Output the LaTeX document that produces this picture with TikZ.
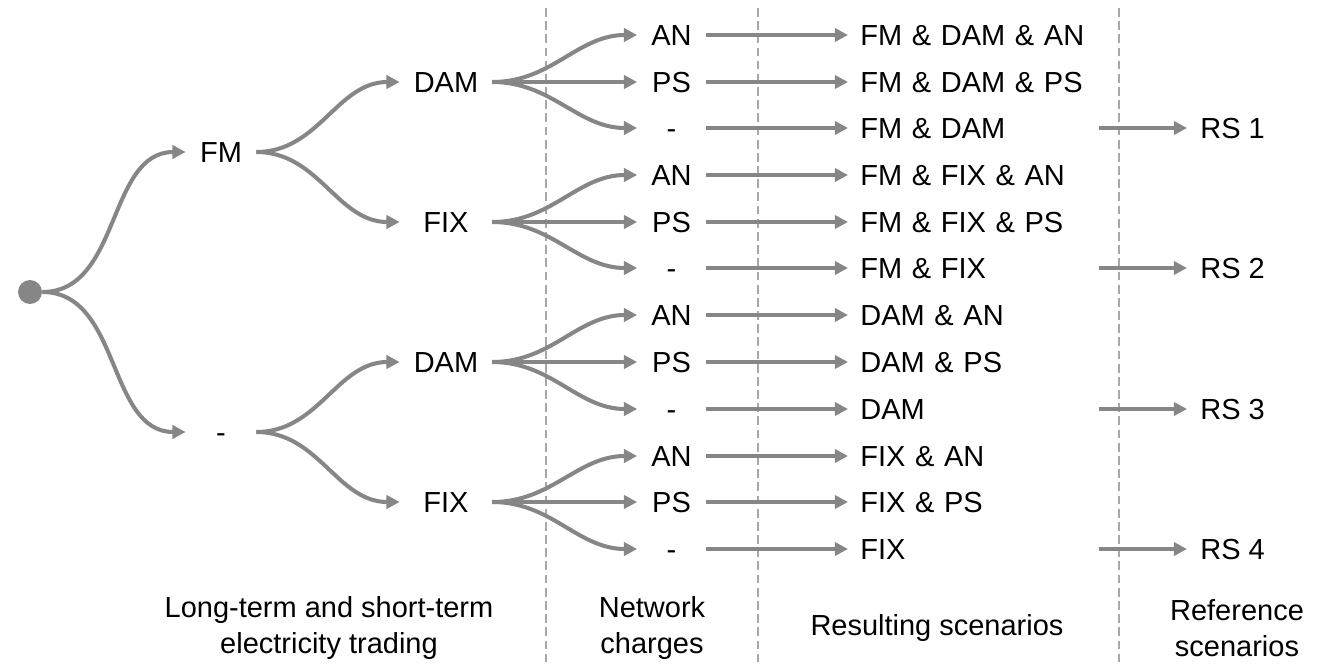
\documentclass[tikz,border=0pt]{standalone}
\usepackage{fontspec}
\setmainfont{Liberation Sans}
\usepackage{tikz}
\usetikzlibrary{arrows.meta}
\definecolor{branchgray}{RGB}{134,134,134}
\definecolor{guidegray}{RGB}{168,168,168}
\tikzstyle{lbl}=[font=\fontsize{16.5}{20.5}\selectfont, text=black, inner sep=0pt]
\tikzstyle{row}=[lbl, text height=11.8pt, text depth=0pt]
\tikzstyle{lvla}=[row, minimum width=1.4cm]
\tikzstyle{lvlb}=[row, minimum width=1.84cm]
\tikzstyle{charge}=[row, minimum width=1.36cm]
\tikzstyle{result}=[row, anchor=west, inner xsep=0.24cm, text width=4.52cm, align=left]
\tikzstyle{refsc}=[row, anchor=west, inner xsep=0.26cm]
\tikzstyle{br}=[draw=branchgray, line width=2.3pt, -{Triangle[length=7.5pt,width=7.5pt]}]
\tikzstyle{guide}=[draw=guidegray, line width=1.1pt, dash pattern=on 5pt off 2.5pt]

\begin{document}
\begin{tikzpicture}[x=0.02cm, y=-0.02cm]
\useasboundingbox (0,0) rectangle (1335,666);
% column separators
\draw[guide] (546,8) -- (546,666);
\draw[guide] (758,8) -- (758,666);
\draw[guide] (1119,8) -- (1119,666);

% trading tree
\node[circle, fill=branchgray, minimum size=0.48cm, inner sep=0pt] (root) at (30,292) {};
\node[lvla] (fm) at (221,152) {FM};
\node[lvla] (nofm) at (221,432) {-};
\node[lvlb] (fmdam) at (446,82) {DAM};
\node[lvlb] (fmfix) at (446,222) {FIX};
\node[lvlb] (dam) at (446,362) {DAM};
\node[lvlb] (fix) at (446,502) {FIX};
\draw[br] (root.east) to[out=0,in=180] (fm.west);
\draw[br] (root.east) to[out=0,in=180] (nofm.west);
\draw[br] (fm.east) to[out=0,in=180] (fmdam.west);
\draw[br] (fm.east) to[out=0,in=180] (fmfix.west);
\draw[br] (nofm.east) to[out=0,in=180] (dam.west);
\draw[br] (nofm.east) to[out=0,in=180] (fix.west);

% network charges
\node[charge] (an1) at (671.5,35) {AN};
\node[charge] (ps1) at (671.5,82) {PS};
\node[charge] (no1) at (671.5,128) {-};
\node[charge] (an2) at (671.5,175) {AN};
\node[charge] (ps2) at (671.5,222) {PS};
\node[charge] (no2) at (671.5,268) {-};
\node[charge] (an3) at (671.5,315) {AN};
\node[charge] (ps3) at (671.5,362) {PS};
\node[charge] (no3) at (671.5,409) {-};
\node[charge] (an4) at (671.5,456) {AN};
\node[charge] (ps4) at (671.5,502) {PS};
\node[charge] (no4) at (671.5,549) {-};
\draw[br] (fmdam.east) to[out=0,in=180] (an1.west);
\draw[br] (fmdam.east) -- (ps1.west);
\draw[br] (fmdam.east) to[out=0,in=180] (no1.west);
\draw[br] (fmfix.east) to[out=0,in=180] (an2.west);
\draw[br] (fmfix.east) -- (ps2.west);
\draw[br] (fmfix.east) to[out=0,in=180] (no2.west);
\draw[br] (dam.east) to[out=0,in=180] (an3.west);
\draw[br] (dam.east) -- (ps3.west);
\draw[br] (dam.east) to[out=0,in=180] (no3.west);
\draw[br] (fix.east) to[out=0,in=180] (an4.west);
\draw[br] (fix.east) -- (ps4.west);
\draw[br] (fix.east) to[out=0,in=180] (no4.west);

% resulting scenarios
\node[result] (res1) at (848,35) {FM \& DAM \& AN};
\node[result] (res2) at (848,82) {FM \& DAM \& PS};
\node[result] (res3) at (848,128) {FM \& DAM};
\node[result] (res4) at (848,175) {FM \& FIX \& AN};
\node[result] (res5) at (848,222) {FM \& FIX \& PS};
\node[result] (res6) at (848,268) {FM \& FIX};
\node[result] (res7) at (848,315) {DAM \& AN};
\node[result] (res8) at (848,362) {DAM \& PS};
\node[result] (res9) at (848,409) {DAM};
\node[result] (res10) at (848,456) {FIX \& AN};
\node[result] (res11) at (848,502) {FIX \& PS};
\node[result] (res12) at (848,549) {FIX};
\draw[br] (an1.east) -- (res1.west);
\draw[br] (ps1.east) -- (res2.west);
\draw[br] (no1.east) -- (res3.west);
\draw[br] (an2.east) -- (res4.west);
\draw[br] (ps2.east) -- (res5.west);
\draw[br] (no2.east) -- (res6.west);
\draw[br] (an3.east) -- (res7.west);
\draw[br] (ps3.east) -- (res8.west);
\draw[br] (no3.east) -- (res9.west);
\draw[br] (an4.east) -- (res10.west);
\draw[br] (ps4.east) -- (res11.west);
\draw[br] (no4.east) -- (res12.west);

% reference scenarios
\node[refsc] (rs1) at (1187,128) {RS 1};
\node[refsc] (rs2) at (1187,268) {RS 2};
\node[refsc] (rs3) at (1187,409) {RS 3};
\node[refsc] (rs4) at (1187,549) {RS 4};
\draw[br] (res3.east) -- (rs1.west);
\draw[br] (res6.east) -- (rs2.west);
\draw[br] (res9.east) -- (rs3.west);
\draw[br] (res12.east) -- (rs4.west);

% column titles
\node[lbl, align=center] (ttrade) at (329,628) {Long-term and short-term\\electricity trading};
\node[lbl, align=center] (tnet) at (652,628) {Network\\charges};
\node[lbl, align=center] (tres) at (937,628) {Resulting scenarios};
\node[lbl, align=center] (tref) at (1237,628) {Reference\\scenarios};
\end{tikzpicture}
\end{document}
